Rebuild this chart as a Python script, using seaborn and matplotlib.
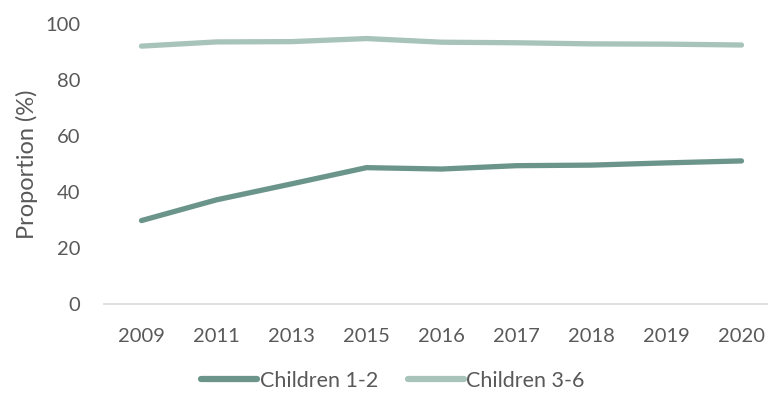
import matplotlib
matplotlib.use("Agg")
import matplotlib.pyplot as plt
import seaborn as sns
import pandas as pd

years = ["2009", "2011", "2013", "2015", "2016", "2017", "2018", "2019", "2020"]
children_1_2 = [29.8, 37.2, 42.9, 48.7, 48.2, 49.4, 49.6, 50.4, 51.1]
children_3_6 = [92.1, 93.6, 93.7, 94.8, 93.5, 93.3, 92.9, 92.8, 92.5]
series_names = ["Children 1-2", "Children 3-6"]
y_ticks = [0, 20, 40, 60, 80, 100]

sns.set_theme(style="white")
plt.rcParams["font.family"] = ["Lato", "DejaVu Sans"]

df = pd.DataFrame({
    "Year": years * 2,
    "Proportion": children_1_2 + children_3_6,
    "Series": [series_names[0]] * len(years) + [series_names[1]] * len(years),
})

fig = plt.figure(figsize=(7.69, 3.96), dpi=100)
ax = fig.add_axes([104 / 769, 1 - 304 / 396, (767 - 104) / 769, (304 - 24) / 396])

palette = {series_names[0]: "#6B958A", series_names[1]: "#A8C3B9"}
sns.lineplot(data=df, x="Year", y="Proportion", hue="Series", palette=palette,
             linewidth=3.8, ax=ax, sort=False, solid_capstyle="round")

ax.set_xlim(-0.5, 8.34)
ax.set_ylim(0, 100)
ax.set_yticks(y_ticks)
for s in ["top", "right", "left"]:
    ax.spines[s].set_visible(False)
ax.spines["bottom"].set_color("#D9D9D9")
ax.spines["bottom"].set_linewidth(1.2)
ax.tick_params(axis="both", length=0, labelsize=14.5, labelcolor="#595959")
ax.tick_params(axis="y", pad=17)
ax.tick_params(axis="x", pad=17)
ax.set_xlabel("")
ax.set_ylabel("Proportion (%)", fontsize=17, color="#595959")
ax.yaxis.set_label_coords(-0.1, 0.5)

leg = ax.legend(loc="center", bbox_to_anchor=(393 / 769, 1 - 381 / 396),
                bbox_transform=fig.transFigure, ncol=2, frameon=False,
                fontsize=15.5, handlelength=2.6, handletextpad=0.1, columnspacing=1.4)
for t in leg.get_texts():
    t.set_color("#595959")
for h in leg.get_lines():
    h.set_linewidth(4.5)

fig.savefig("out.png", dpi=100)
